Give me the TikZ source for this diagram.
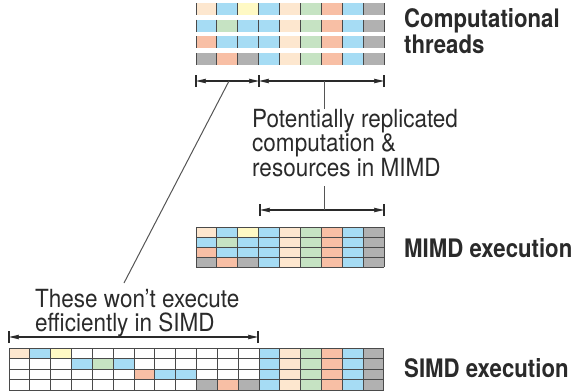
\documentclass[tikz,border=0pt]{standalone}
\usepackage{fontspec}
\usetikzlibrary{arrows.meta}
\newfontfamily\labfont{TeX Gyre Heros}[FakeStretch=0.9]
\newfontfamily\labboldfont{TeX Gyre Heros}[FakeStretch=0.87,UprightFont=*-Bold]
\definecolor{pe}{HTML}{FDE7CF}
\definecolor{bl}{HTML}{A6DCF4}
\definecolor{ye}{HTML}{FFF9C4}
\definecolor{gr}{HTML}{C6E3C3}
\definecolor{sa}{HTML}{F8BFA5}
\definecolor{gy}{HTML}{B1B1B1}
\definecolor{wh}{HTML}{FFFFFF}
\definecolor{ink}{HTML}{2A2A2A}
\tikzset{
  dimline/.style={draw=ink, line width=1.1pt, {Stealth[length=10pt,width=4.5pt,inset=1pt]}-{Stealth[length=10pt,width=4.5pt,inset=1pt]}},
  tick/.style={draw=ink, line width=1.1pt},
  leader/.style={draw=ink!80, line width=1pt},
  gridline/.style={draw=ink!85, line width=0.9pt},
  plaintext/.style={font=\labfont\fontsize{25}{22.5}\selectfont, text=ink, align=left, inner sep=0pt, anchor=base west},
  boldtext/.style={font=\labboldfont\fontsize{25.5}{24}\selectfont, text=ink, align=left, inner sep=0pt, anchor=base west},
}
\begin{document}
\begin{tikzpicture}[x=1pt,y=-1pt]
\path[use as bounding box] (0,0) rectangle (579,391);

% --- computational threads: four strips of nine cells
\def\cw{20.89}
\foreach \r/\cl in {0/{pe,bl,ye,bl,pe,gr,sa,bl,gy},
                    1/{bl,gr,bl,bl,pe,gr,sa,bl,gy},
                    2/{sa,bl,bl,bl,pe,gr,sa,bl,gy},
                    3/{gy,sa,gy,bl,pe,gr,sa,bl,gy}}{
  \foreach \c [count=\i from 0] in \cl {
    \fill[\c] (196+\i*\cw, 3+\r*16.7) rectangle ++(\cw, 12);
  }
  \foreach \i in {0,...,9}{
    \draw[ink!85, line width=1pt] (196+\i*\cw, 3+\r*16.7) -- ++(0,12);
  }
}

% --- dimension lines under the threads
\coordinate (t0) at (196,81);
\coordinate (t1) at (259,81);
\coordinate (t2) at (384,81);
\foreach \p in {t0,t1,t2}{ \draw[tick] ([yshift=-6pt]\p) -- ([yshift=6pt]\p); }
\draw[dimline] (t0) -- (t1);
\draw[dimline] (t1) -- (t2);
\coordinate (lmid) at (229,81);
\coordinate (rmid) at (324,81);

% --- replicated computation note (anchored at the baseline of its last line)
\node[plaintext] (note) at (252,176) {Potentially replicated\\computation \&\\resources in MIMD};
\coordinate (notetop) at (324,109);
\coordinate (notebot) at (324,186);
\draw[leader] (rmid) -- (notetop);

\coordinate (m0) at (260,210);
\coordinate (m1) at (384,210);
\coordinate (mmid) at (324,210);
\foreach \p in {m0,m1}{ \draw[tick] ([yshift=-6pt]\p) -- ([yshift=6pt]\p); }
\draw[dimline] (m0) -- (m1);
\draw[leader] (notebot) -- (mmid);

% --- MIMD execution grid
\foreach \r/\cl in {0/{pe,bl,ye,bl,pe,gr,sa,bl,gy},
                    1/{bl,gr,bl,bl,pe,gr,sa,bl,gy},
                    2/{sa,bl,bl,bl,pe,gr,sa,bl,gy},
                    3/{gy,sa,gy,bl,pe,gr,sa,bl,gy}}{
  \foreach \c [count=\i from 0] in \cl {
    \fill[\c] (196+\i*\cw, 227+\r*10) rectangle ++(\cw, 10);
  }
}
\foreach \i in {0,...,9}{ \draw[gridline] (196+\i*\cw, 227) -- ++(0,40); }
\foreach \r in {0,...,4}{ \draw[gridline] (196, 227+\r*10) -- (384, 227+\r*10); }

% --- SIMD note and dimension line
\node[plaintext, font=\labfont\fontsize{25}{23.5}\selectfont] (simdnote) at (35,331) {These won’t execute\\efficiently in SIMD};
\coordinate (simdtop) at (124,283);
\draw[leader] (lmid) -- (simdtop);

\coordinate (s0) at (9,337);
\coordinate (s1) at (258,337);
\foreach \p in {s0,s1}{ \draw[tick] ([yshift=-6pt]\p) -- ([yshift=6pt]\p); }
\draw[dimline] (s0) -- (s1);

% --- SIMD execution grid: divergent parts serialised, common part shared
\def\sw{20.83}
\foreach \r/\cl in {0/{pe,bl,ye,wh,wh,wh,wh,wh,wh,wh,wh,wh,bl,pe,gr,sa,bl,gy},
                    1/{wh,wh,wh,bl,gr,bl,wh,wh,wh,wh,wh,wh,bl,pe,gr,sa,bl,gy},
                    2/{wh,wh,wh,wh,wh,wh,sa,bl,bl,wh,wh,wh,bl,pe,gr,sa,bl,gy},
                    3/{wh,wh,wh,wh,wh,wh,wh,wh,wh,gy,sa,gy,bl,pe,gr,sa,bl,gy}}{
  \foreach \c [count=\i from 0] in \cl {
    \fill[\c] (9+\i*\sw, 348+\r*10.5) rectangle ++(\sw, 10.5);
  }
}
\foreach \i in {0,...,18}{ \draw[gridline] (9+\i*\sw, 348) -- ++(0,42); }
\foreach \r in {0,...,4}{ \draw[gridline] (9, 348+\r*10.5) -- (384, 348+\r*10.5); }

% --- row labels
\node[boldtext] (thr) at (404,53) {Computational\\threads};
\node[boldtext] (mimd) at (404,257) {MIMD execution};
\node[boldtext] (simd) at (404,377) {SIMD execution};
\end{tikzpicture}
\end{document}
